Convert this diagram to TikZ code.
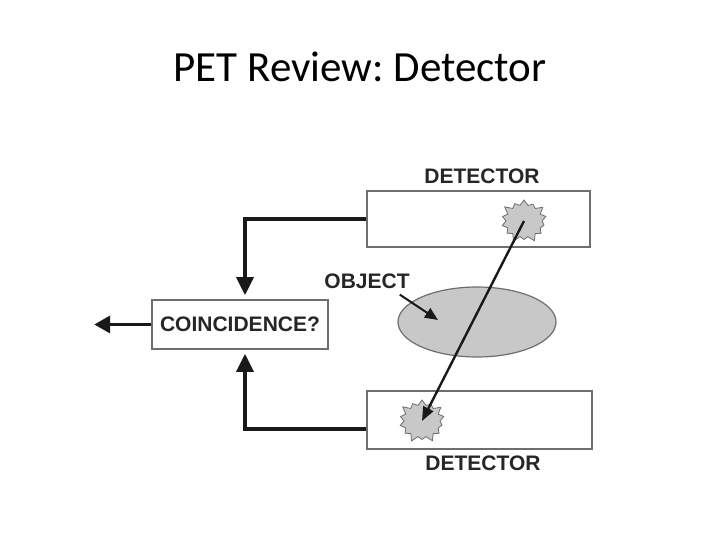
\documentclass[tikz,border=0pt]{standalone}
\usepackage{fontspec}
\setmainfont{Liberation Sans}
\newfontfamily\titlefont{Carlito}
\usepackage{tikz}
\usetikzlibrary{arrows.meta, positioning, shapes.geometric, shapes.symbols}
\definecolor{boxgray}{RGB}{110,110,110}
\definecolor{objgray}{RGB}{200,200,200}
\definecolor{linedark}{RGB}{25,25,25}
\frenchspacing

\begin{document}
\begin{tikzpicture}[x=1pt, y=-1pt,
    detbox/.style={draw=boxgray, line width=1.6pt, rectangle, fill=white, inner sep=0pt},
    label/.style={draw=none, fill=none, font=\fontsize{21}{24}\selectfont\bfseries, text=black!85, inner sep=0pt},
    burst/.style={starburst, starburst points=14, starburst point height=7pt, draw=boxgray, fill=objgray, line width=0.8pt, minimum width=50pt, minimum height=46pt, inner sep=0pt},
    every edge/.style={draw, -stealth}
  ]
    \def\edgewidth{3.5pt}
  \useasboundingbox (0,0) rectangle (720,540);
  \node[font=\titlefont\fontsize{43}{47}\selectfont] (T) at (360,67) {PET Review: Detector};

  \node[detbox, minimum width=223pt, minimum height=56pt] (A) at (478.5,219) {};
  \node[detbox, minimum width=225pt, minimum height=58pt] (B) at (479.5,420) {};
  \node[detbox, minimum width=176pt, minimum height=49pt] (C) at (240,324.5) {};
  \node[label] at (C) {COINCIDENCE?};
  \node[ellipse, draw=boxgray, line width=1.2pt, fill=objgray, minimum width=158pt, minimum height=70pt] (O) at (477,322) {};

  \node[label] (LA) at (482,176) {DETECTOR};
  \node[label] (LB) at (483,463) {DETECTOR};
  \node[label] (LO) at (367,281) {OBJECT};

  \node[burst] (SA) at (524,221) {};
  \node[burst] (SB) at (422,421) {};

  \coordinate (out) at ([xshift=-57pt]C.west);
  \coordinate (objpt) at (438,320);

  \draw[-{Triangle[length=18pt,width=17pt]}, line width=\edgewidth, linedark] (A.west) -| ([xshift=5pt, yshift=4pt]C.north);
  \draw[-{Triangle[length=18pt,width=17pt]}, line width=\edgewidth, linedark] ([yshift=-9pt]B.west) -| ([xshift=5pt, yshift=-4pt]C.south);
  \draw[-{Triangle[length=16pt,width=17pt]}, line width=\edgewidth, linedark] (C.west) -- (out);
  \draw[-{Triangle[length=13pt,width=11pt]}, line width=2pt, linedark] ([xshift=-10pt, yshift=-6pt]LO.south east) -- (objpt);
  \draw[-{Triangle[length=14pt,width=11pt]}, line width=2.4pt, linedark] (SA.center) -- (SB.center);
\end{tikzpicture}
\end{document}
